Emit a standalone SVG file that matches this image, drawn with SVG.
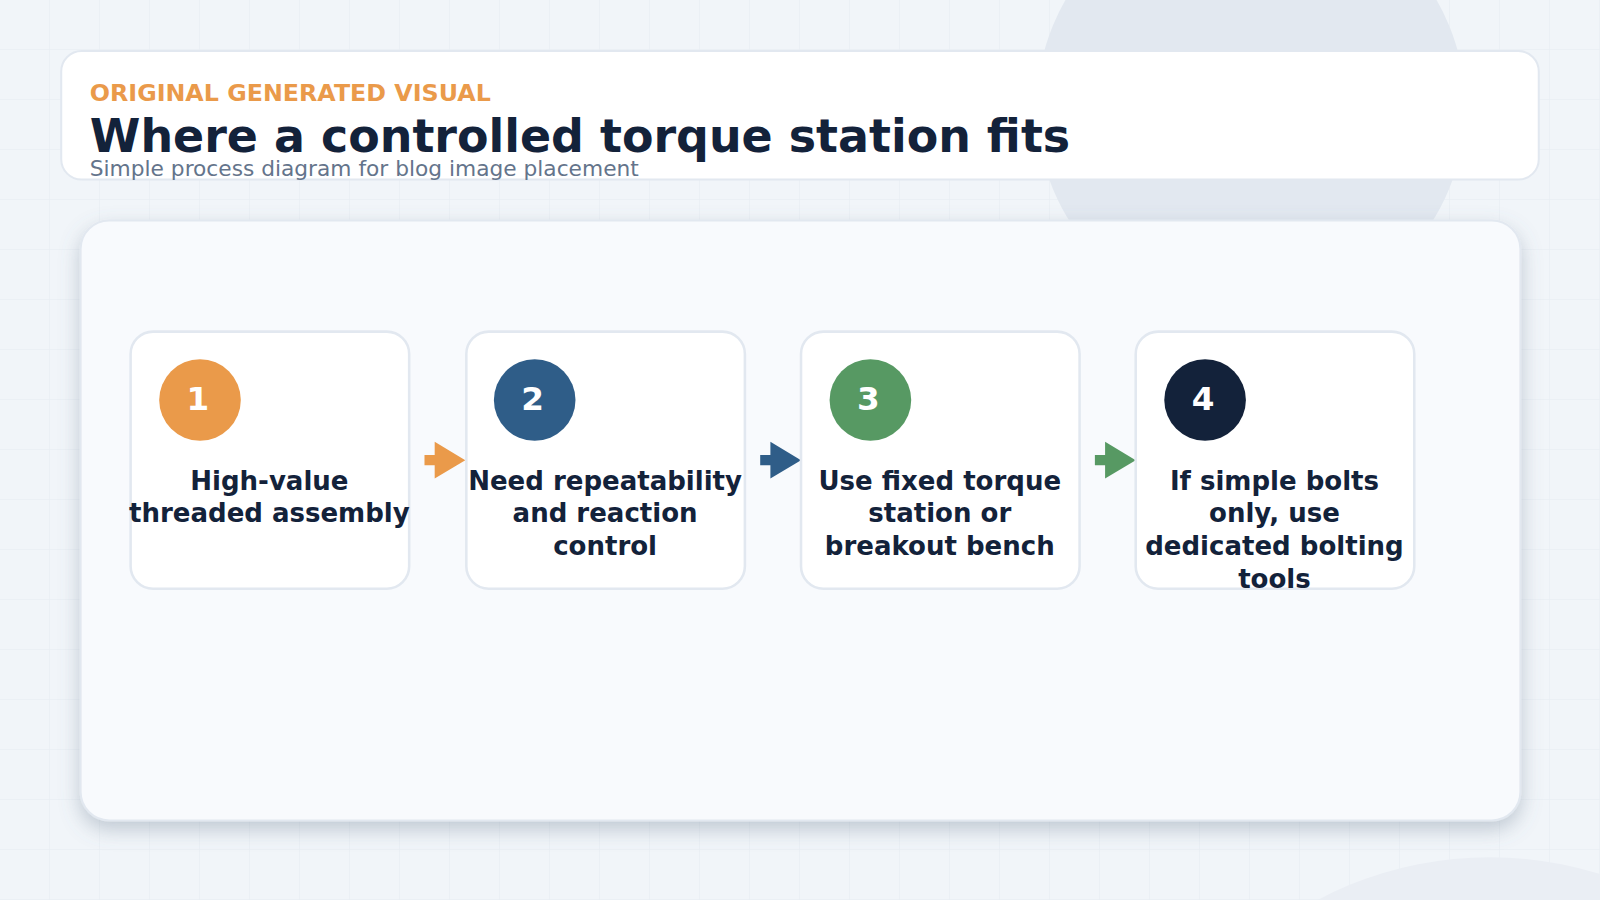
<svg xmlns="http://www.w3.org/2000/svg" width="1600" height="900" viewBox="0 0 1600 900">
<defs>
<style>
.t{font-family:"DejaVu Sans",sans-serif;font-weight:bold}
.card{fill:#fff;stroke:#e2e8f0;stroke-width:2.5}
.lbl{font-family:"DejaVu Sans",sans-serif;font-weight:bold;font-size:25.5px;fill:#13223a;text-anchor:middle}
.num{font-family:"DejaVu Sans",sans-serif;font-weight:bold;font-size:32px;fill:#fff;text-anchor:middle}
</style>
<filter id="sh" x="-10%" y="-10%" width="120%" height="130%"><feDropShadow dx="0" dy="8" stdDeviation="10" flood-color="#64748b" flood-opacity="0.35"/></filter>
<pattern id="gp" width="49" height="49" patternUnits="userSpaceOnUse"><path d="M49 0V49H0" fill="none" stroke="#e6ebf2"/></pattern>
</defs>
<g transform="scale(1.0204)">
<rect width="1570" height="885" fill="#f1f5f9"/>
<rect width="1570" height="885" fill="url(#gp)"/>
<circle cx="1226" cy="105" r="210" fill="#e2e8f0"/>
<circle cx="1460" cy="1200" r="360" fill="#eaeef4"/>
<g id="header">
<rect x="60" y="50" width="1448" height="126" rx="20" fill="#fff" stroke="#e2e8f0" stroke-width="2"/>
<text x="88" y="99" class="t" font-size="23.3" fill="#ea9a4a">ORIGINAL GENERATED VISUAL</text>
<text x="88" y="149" class="t" font-size="45" fill="#13223a">Where a controlled torque station fits</text>
<text x="88" y="172" font-family="DejaVu Sans,sans-serif" font-size="21.3" fill="#64748b">Simple process diagram for blog image placement</text>
</g>
<rect id="panel" x="79" y="216" width="1411" height="588" rx="28" fill="#f8fafd" stroke="#e2e8f0" stroke-width="2" filter="url(#sh)"/>
<g id="connectors">
<path d="M416 446h10v-13l30 18-30 18v-13h-10z" fill="#ea9a4a"/>
<path d="M745 446h10v-13l30 18-30 18v-13h-10z" fill="#2f5d88"/>
<path d="M1073 446h10v-13l30 18-30 18v-13h-10z" fill="#579963"/>
</g>
<g id="step1"><rect class="card" x="128" y="325" width="273" height="252" rx="22"/><circle cx="196" cy="392" r="40" fill="#ea9a4a"/><text class="num" x="194" y="402">1</text>
<text class="lbl" x="264" y="480">High-value</text><text class="lbl" x="264" y="512">threaded assembly</text></g>
<g id="step2"><rect class="card" x="457" y="325" width="273" height="252" rx="22"/><circle cx="524" cy="392" r="40" fill="#2f5d88"/><text class="num" x="522" y="402">2</text>
<text class="lbl" x="593" y="480">Need repeatability</text><text class="lbl" x="593" y="512">and reaction</text><text class="lbl" x="593" y="544">control</text></g>
<g id="step3"><rect class="card" x="785" y="325" width="273" height="252" rx="22"/><circle cx="853" cy="392" r="40" fill="#579963"/><text class="num" x="851" y="402">3</text>
<text class="lbl" x="921" y="480">Use fixed torque</text><text class="lbl" x="921" y="512">station or</text><text class="lbl" x="921" y="544">breakout bench</text></g>
<g id="step4"><rect class="card" x="1113" y="325" width="273" height="252" rx="22"/><circle cx="1181" cy="392" r="40" fill="#13223a"/><text class="num" x="1179" y="402">4</text>
<text class="lbl" x="1249" y="480">If simple bolts</text><text class="lbl" x="1249" y="512">only, use</text><text class="lbl" x="1249" y="544">dedicated bolting</text><text class="lbl" x="1249" y="576">tools</text></g>
</g>
</svg>
